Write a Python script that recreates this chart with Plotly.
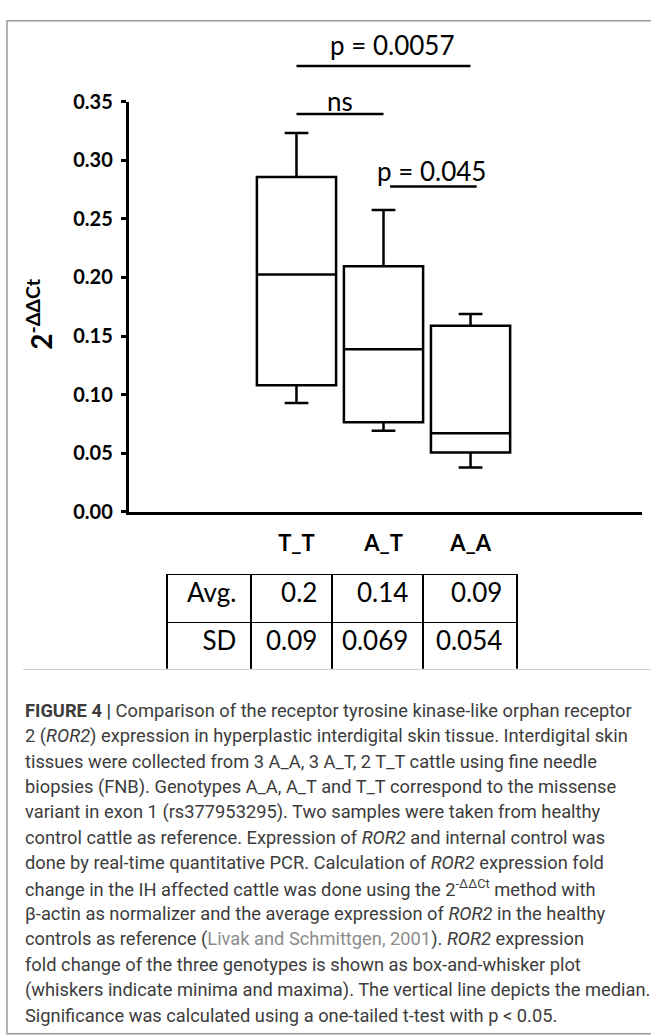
import plotly.graph_objects as go

# ---------------- data ----------------
genotypes = ["T_T", "A_T", "A_A"]
gpos = [0, 1, 2]
lowerfence = [0.0928, 0.0692, 0.0378]
q1 = [0.108, 0.0764, 0.0506]
median = [0.2025, 0.1387, 0.067]
q3 = [0.2856, 0.2095, 0.1587]
upperfence = [0.3233, 0.2575, 0.1689]

bracket_labels = ["p = 0.0057", "ns", "p = 0.045"]
bracket_x0 = [0.0, 0.0, 1.075]
bracket_x1 = [2.0, 1.0, 2.07]
bracket_y = [0.3803, 0.3395, 0.2775]
label_x = [1.10, 0.50, 1.547]
label_y = [0.398, 0.3506, 0.2908]

table_rows = ["Avg.", "SD"]
avg_vals = ["0.2", "0.14", "0.09"]
sd_vals = ["0.09", "0.069", "0.054"]

caption_lines = [
    "<b>FIGURE 4 |</b> Comparison of the receptor tyrosine kinase-like orphan receptor",
    "2 (<i>ROR2</i>) expression in hyperplastic interdigital skin tissue. Interdigital skin",
    "tissues were collected from 3 A_A, 3 A_T, 2 T_T cattle using fine needle",
    "biopsies (FNB). Genotypes A_A, A_T and T_T correspond to the missense",
    "variant in exon 1 (rs377953295). Two samples were taken from healthy",
    "control cattle as reference. Expression of <i>ROR2</i> and internal control was",
    "done by real-time quantitative PCR. Calculation of <i>ROR2</i> expression fold",
    "change in the IH affected cattle was done using the 2<sup>-ΔΔCt</sup> method with",
    "β-actin as normalizer and the average expression of <i>ROR2</i> in the healthy",
    "controls as reference (<span style='color:#8c8c8c'>Livak and Schmittgen, 2001</span>). <i>ROR2</i> expression",
    "fold change of the three genotypes is shown as box-and-whisker plot",
    "(whiskers indicate minima and maxima). The vertical line depicts the median.",
    "Significance was calculated using a one-tailed t-test with p < 0.05.",
]

# ---------------- layout helpers ----------------
W, H = 651, 1035
def px(x):
    return x / W
def py(y):
    return 1 - y / H

AX_L, AX_R = 128.5, 642
Y_TOP, Y_BOT = 90.7, 510.7
PX_PER_UNIT = 1200.0
PAD = "\u00a0"

fig = go.Figure()

fig.add_trace(go.Box(
    x=gpos, q1=q1, median=median, q3=q3,
    lowerfence=lowerfence, upperfence=upperfence,
    width=0.91, whiskerwidth=0.3, boxpoints=False,
    fillcolor="white", line=dict(color="black", width=2.5),
    xaxis="x", yaxis="y", hoverinfo="skip", showlegend=False,
))

for x0, x1, yv in zip(bracket_x0, bracket_x1, bracket_y):
    fig.add_trace(go.Scatter(
        x=[x0, x1], y=[yv, yv], mode="lines",
        line=dict(color="black", width=2.5),
        xaxis="x", yaxis="y2", hoverinfo="skip", showlegend=False,
    ))

tfont = dict(family="Lato", size=26, color="black")
fig.add_trace(go.Table(
    domain=dict(x=[px(167), px(517)], y=[py(672), py(575)]),
    columnwidth=[84, 81, 91, 94],
    header=dict(values=[v + PAD for v in [table_rows[0]] + avg_vals], height=48,
                align="right", fill_color="white",
                line=dict(color="black", width=1.5), font=tfont),
    cells=dict(values=[[v + PAD] for v in [table_rows[1]] + sd_vals], height=48,
               align="right", fill_color="white",
               line=dict(color="black", width=1.5), font=tfont),
))

annotations = []
for t, xv, yv in zip(bracket_labels, label_x, label_y):
    annotations.append(dict(text=t, x=xv, y=yv, xref="x", yref="y2",
                            showarrow=False, xanchor="center", yanchor="middle",
                            font=dict(family="Lato", size=26, color="black")))

annotations.append(dict(text="<b>2<sup>-ΔΔCt</sup></b>", x=px(40), y=py(308),
                        xref="paper", yref="paper", textangle=-90, showarrow=False,
                        xanchor="center", yanchor="middle",
                        font=dict(family="Lato", size=28, color="black")))

CAP_Y0, CAP_DY = 714, 26
for i, line in enumerate(caption_lines):
    annotations.append(dict(text=line, x=px(23), y=py(CAP_Y0 + i * CAP_DY),
                            xref="paper", yref="paper", showarrow=False,
                            xanchor="left", yanchor="middle", align="left",
                            font=dict(family="Roboto", size=18.3, color="#3c3c3c")))

shapes = [
    dict(type="rect", xref="paper", yref="paper", x0=px(7), x1=px(660), y0=py(8), y1=py(1045),
         line=dict(color="#9a9a9a", width=1.5), fillcolor="rgba(0,0,0,0)", layer="below"),
    dict(type="line", xref="paper", yref="paper", x0=px(23), x1=px(651), y0=py(672), y1=py(672),
         line=dict(color="#cfcfcf", width=1)),
]

fig.update_layout(
    width=W, height=H, margin=dict(l=0, r=0, t=0, b=0),
    paper_bgcolor="white", plot_bgcolor="rgba(0,0,0,0)",
    showlegend=False,
    xaxis=dict(domain=[px(AX_L), px(AX_R)], range=[-1.93, 3.97], anchor="y",
               tickvals=gpos, ticktext=genotypes, ticks="", showgrid=False, zeroline=False,
               showline=True, linecolor="black", linewidth=2.5,
               tickfont=dict(family="Lato", size=22, color="black", weight="bold"),
               ticklabelstandoff=10),
    yaxis=dict(domain=[py(Y_BOT), py(Y_TOP)], range=[0, 0.35], anchor="x",
               tick0=0, dtick=0.05, tickformat=".2f",
               ticks="outside", ticklen=5, tickwidth=2.5, tickcolor="black",
               showline=True, linecolor="black", linewidth=2.5,
               showgrid=False, zeroline=False,
               tickfont=dict(family="Lato", size=20, color="black", weight="bold"),
               ticklabelstandoff=4),
    yaxis2=dict(domain=[py(Y_BOT), 1.0], range=[0, Y_BOT / PX_PER_UNIT], anchor="x",
                visible=False),
    annotations=annotations,
    shapes=shapes,
)

fig.write_html("out.html", config={"displayModeBar": False},
               post_script="document.body.style.margin='0px';")
